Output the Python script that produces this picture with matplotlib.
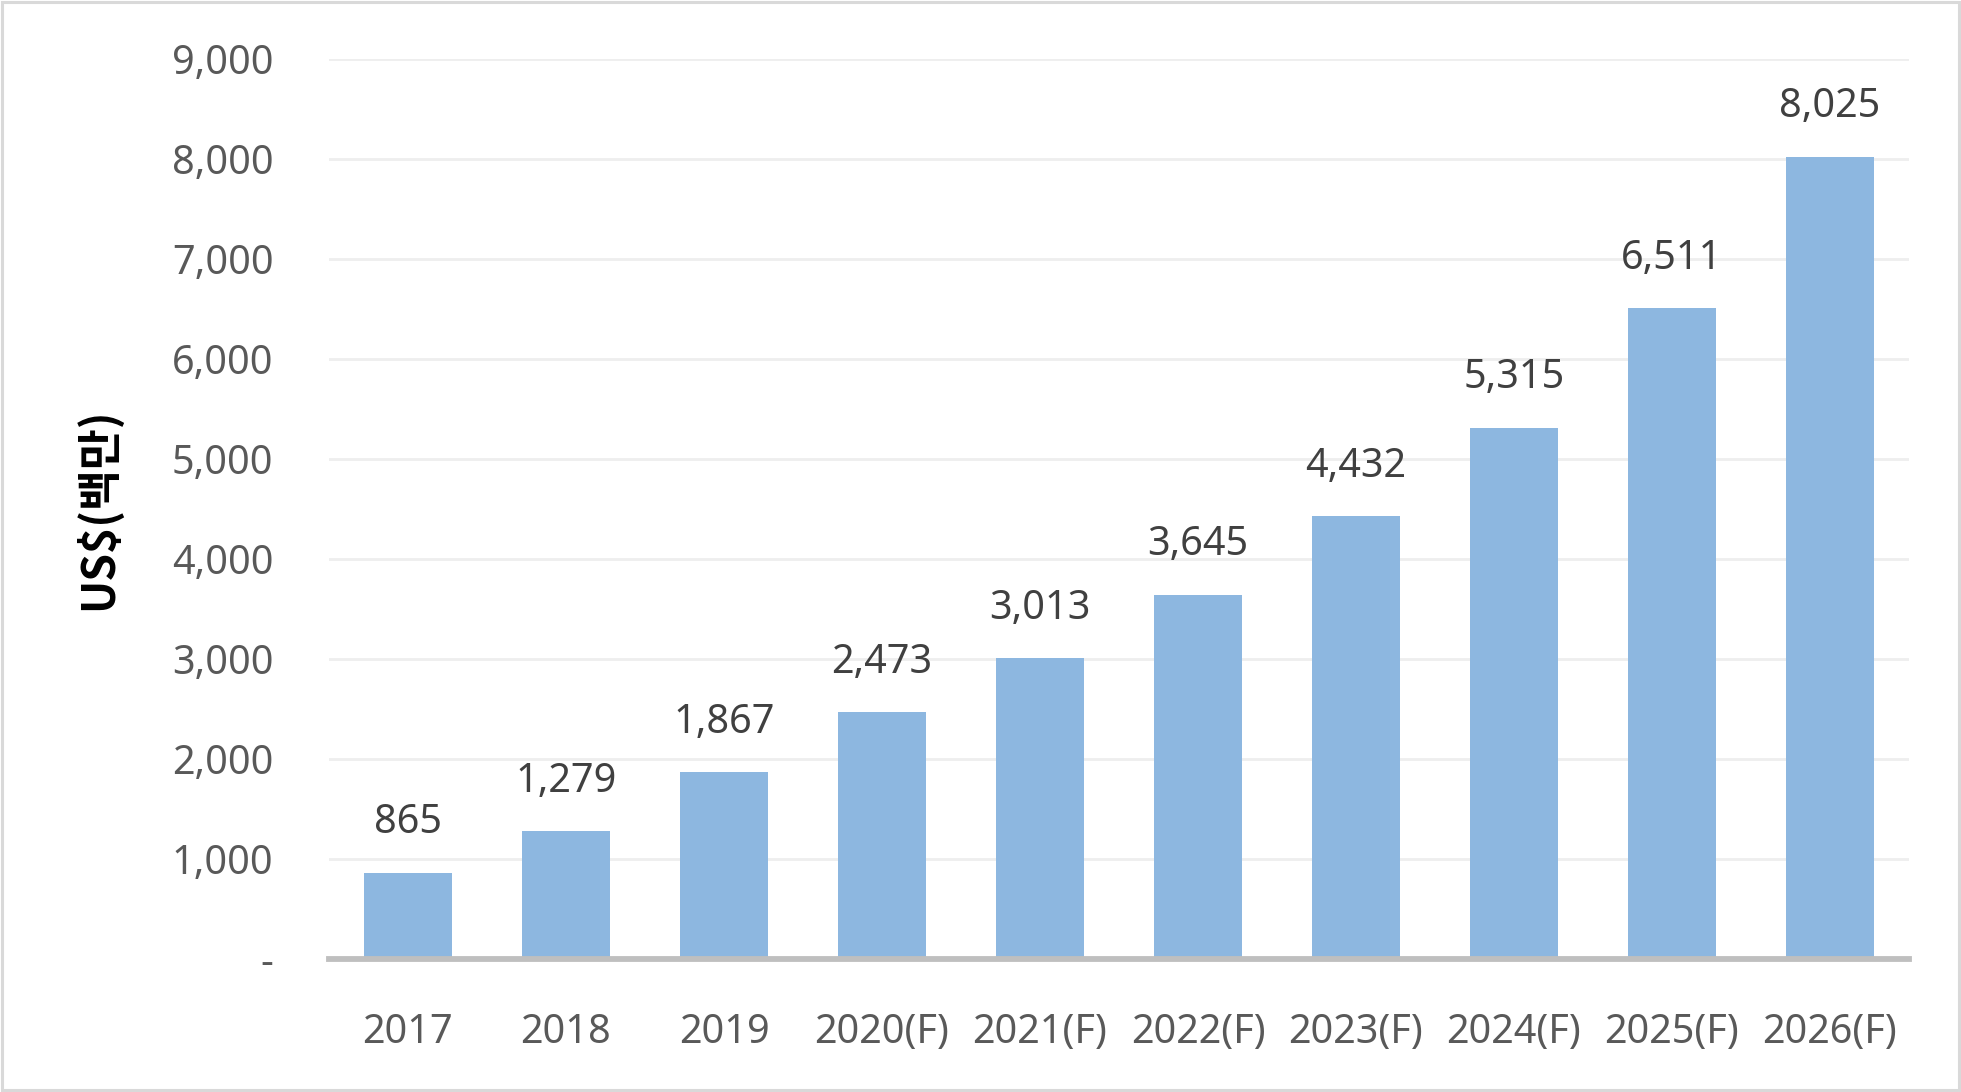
import matplotlib
matplotlib.use("Agg")
import matplotlib.pyplot as plt
from matplotlib.patches import Rectangle
from matplotlib.ticker import FuncFormatter, MultipleLocator

categories = ["2017", "2018", "2019", "2020(F)", "2021(F)", "2022(F)",
              "2023(F)", "2024(F)", "2025(F)", "2026(F)"]
values = [865, 1279, 1867, 2473, 3013, 3645, 4432, 5315, 6511, 8025]
y_label = "US$(백만)"

plt.rcParams['font.family'] = ['Noto Sans', 'Noto Sans CJK KR', 'DejaVu Sans']

W, H = 1961, 1092
fig = plt.figure(figsize=(W / 100, H / 100), dpi=100)
fig.patch.set_facecolor("white")

# border around the chart
fig.add_artist(Rectangle((0.0008, 0.0014), 0.9984, 0.9972, transform=fig.transFigure,
                         fill=False, edgecolor="#d9d9d9", linewidth=2.2))

ax = fig.add_axes([329 / W, (H - 959) / H, 1580 / W, 900 / H])
x = list(range(len(categories)))
bars = ax.bar(x, values, width=0.56, color="#8db7e0", zorder=3)

ax.set_xlim(-0.5, len(categories) - 0.5)
ax.set_ylim(0, 9000)
ax.yaxis.set_major_locator(MultipleLocator(1000))
ax.yaxis.set_major_formatter(FuncFormatter(lambda v, p: "-" if v == 0 else f"{v:,.0f}"))
ax.set_xticks(x)
ax.set_xticklabels(categories)

ax.grid(axis="y", color="#eeeeee", linewidth=2, zorder=0)
ax.set_axisbelow(True)
for s in ["top", "right", "left"]:
    ax.spines[s].set_visible(False)
ax.spines["bottom"].set_color("#bfbfbf")
ax.spines["bottom"].set_linewidth(4.2)
ax.spines["bottom"].set_zorder(4)

ax.tick_params(axis="both", length=0, labelsize=28.5, labelcolor="#595959")
ax.tick_params(axis="y", pad=40)
ax.tick_params(axis="x", pad=39)

ax.bar_label(bars, labels=[f"{v:,}" for v in values], padding=21,
             fontsize=28.5, color="#404040")

ax.set_ylabel(y_label, fontsize=32, fontweight="bold", color="black",
              family=['Noto Sans CJK KR', 'DejaVu Sans'], va="center")
ax.yaxis.set_label_coords(-0.146, 0.5)

fig.savefig("out.png", dpi=100, facecolor="white")
